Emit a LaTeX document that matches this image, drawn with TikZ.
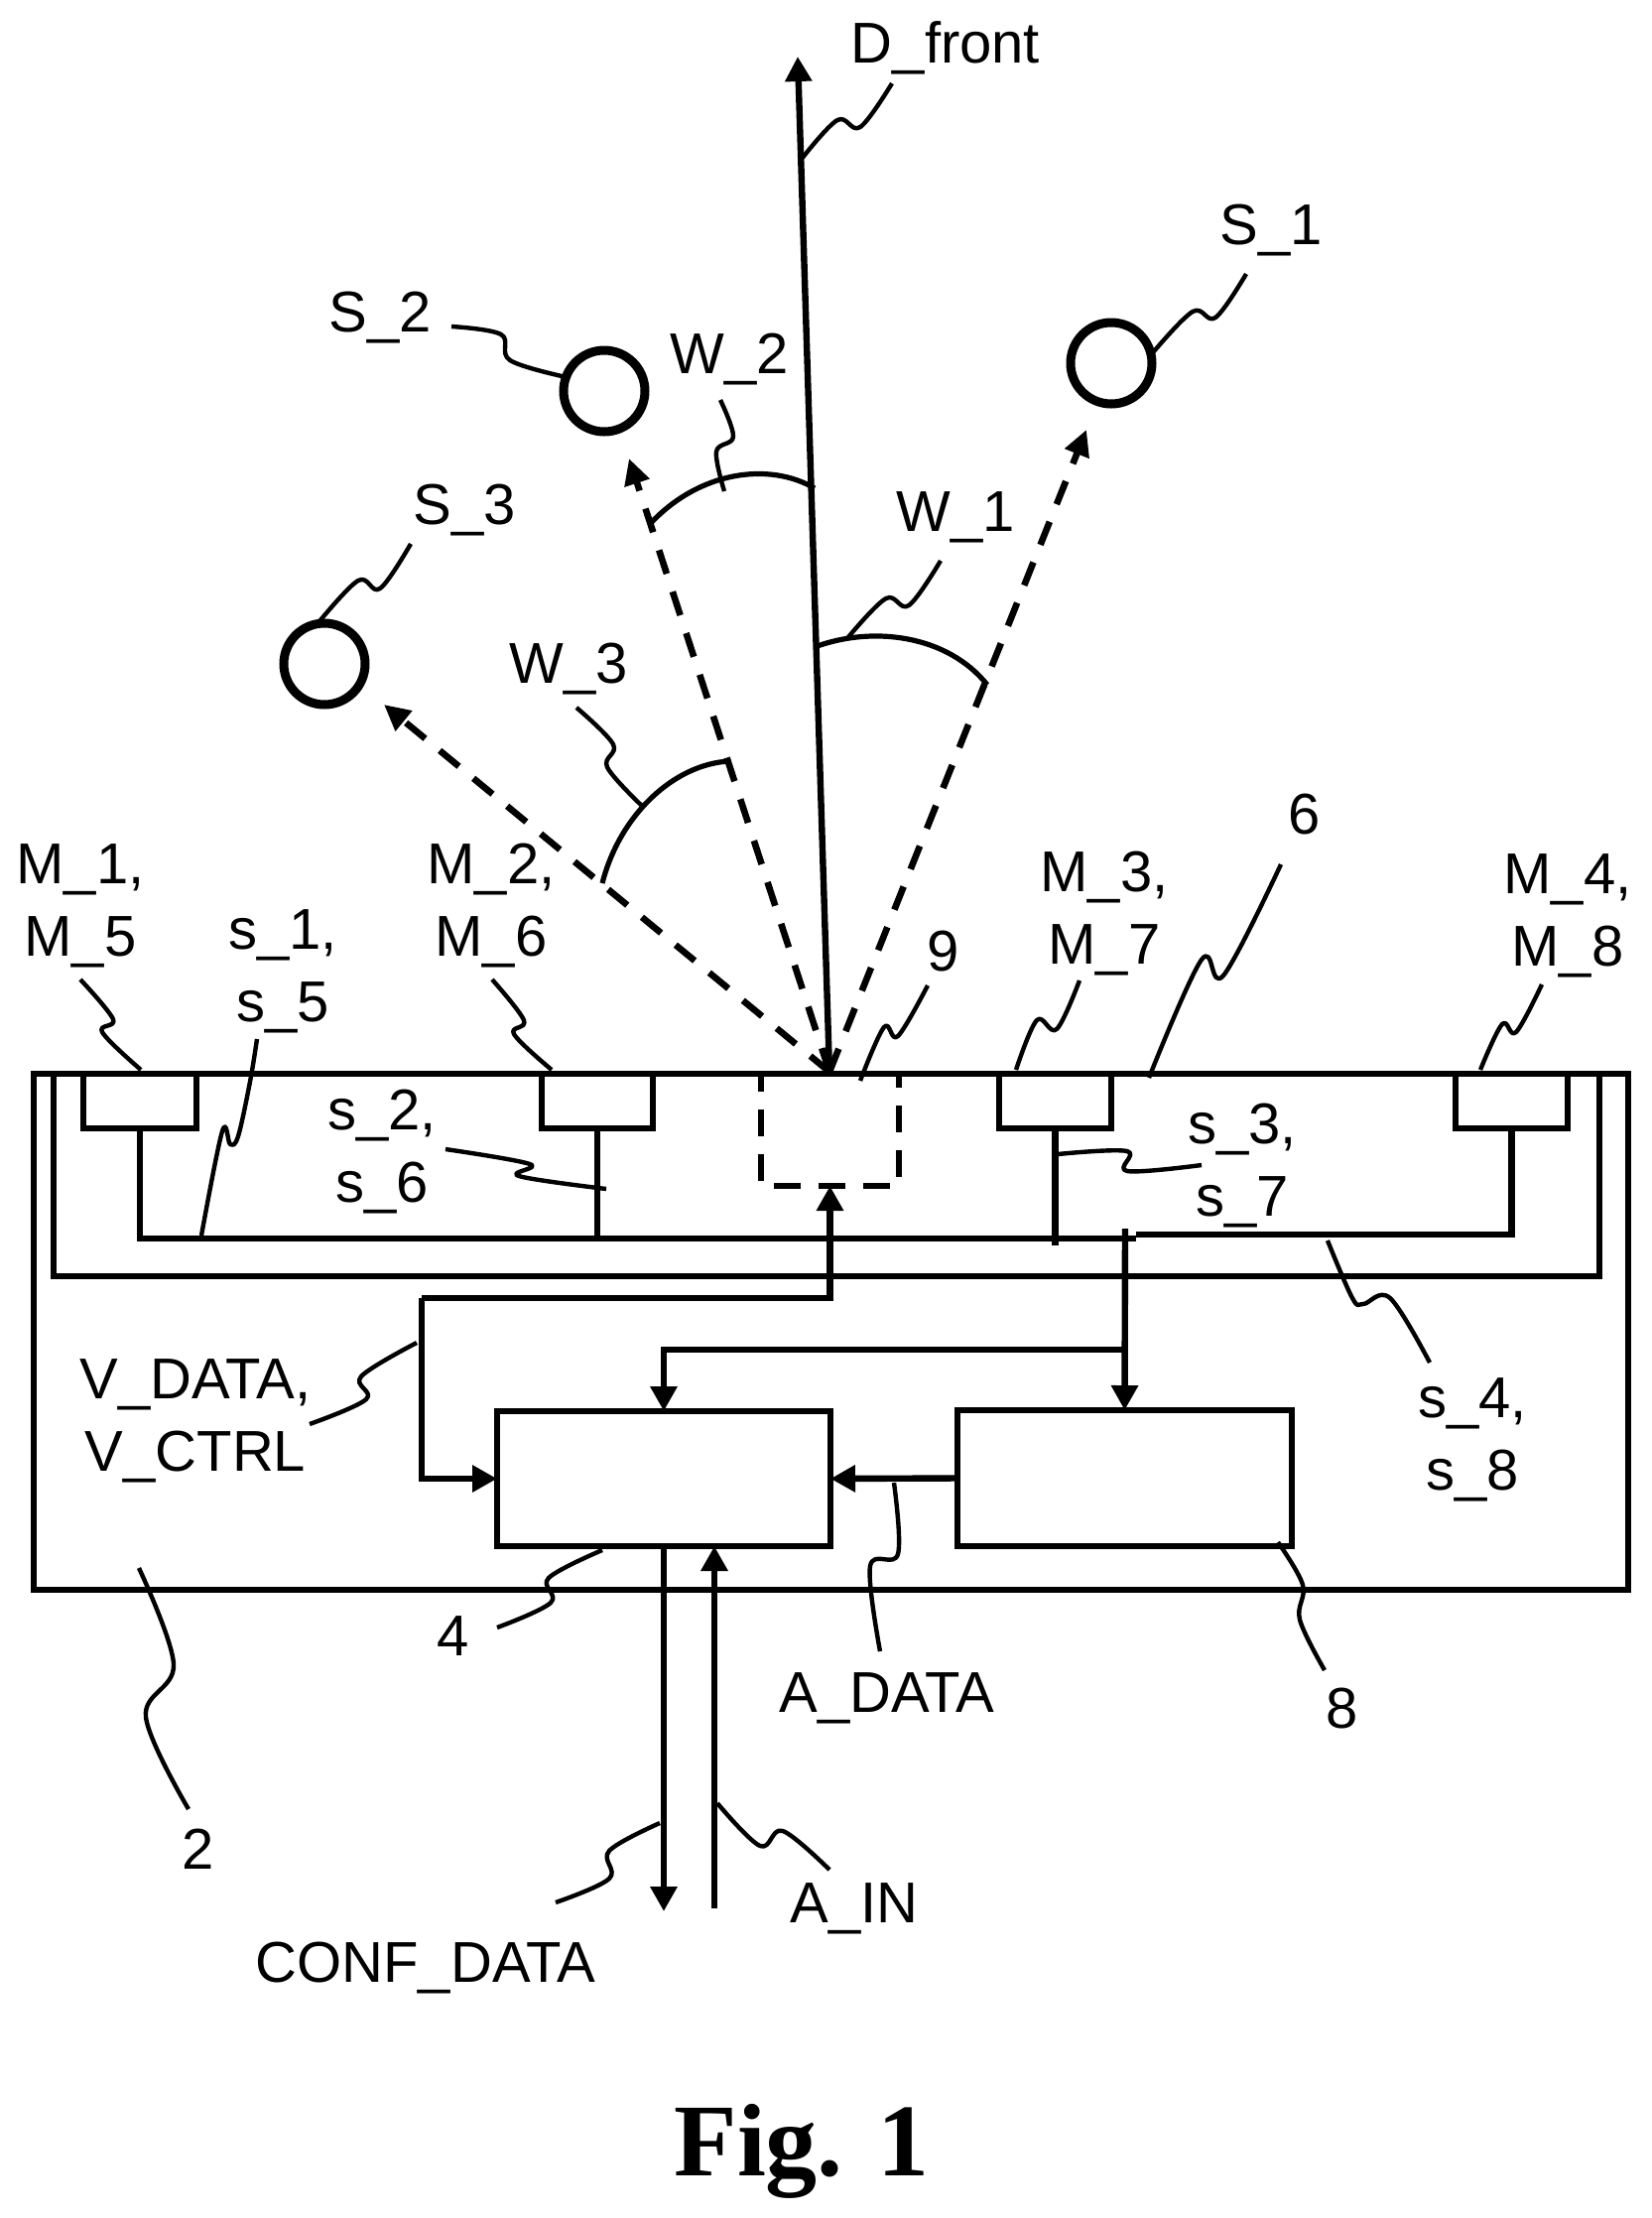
\documentclass[tikz,border=0pt]{standalone}
\usepackage{fontspec}
\setmainfont{Liberation Sans}
\newfontfamily\figfont{Liberation Serif}
\usetikzlibrary{arrows.meta}
\tikzset{
  lbl/.style={anchor=base,inner sep=0pt,outer sep=0pt,align=center,font=\fontsize{29}{36.5}\selectfont},
  figlbl/.style={anchor=base,inner sep=0pt,outer sep=0pt,font=\figfont\bfseries\fontsize{52}{60}\selectfont},
  boxnode/.style={draw,rectangle,inner sep=0pt,outer sep=0pt,line width=3.3pt},
  src/.style={draw,circle,inner sep=0pt,outer sep=0pt,minimum size=41pt,line width=4.5pt},
  wire/.style={line width=3.2pt},
  arr/.style={-{Triangle[length=12.5pt,width=13pt]}},
  dir/.style={line width=3.3pt,dash pattern=on 12.5pt off 9.5pt,-{Triangle[length=13pt,width=12.5pt]}},
  lead/.style={line width=2.2pt,line join=round}
}
\newcommand\leader[4]{\coordinate (#1a) at #2; \coordinate (#1b) at #4;
  \draw[lead] plot[smooth,tension=.6] coordinates {(#1a) #3 (#1b)};}
\begin{document}
\begin{tikzpicture}[x=0.5pt,y=-0.5pt]
\useasboundingbox (0,0) rectangle (1665,2235);
% main housing and blocks
\node[boxnode,minimum width=803.5pt,minimum height=260pt] (outer) at (837.5,1342) {};
\node[boxnode,minimum width=57pt,minimum height=27.5pt] (mic1) at (141,1109.5) {};
\node[boxnode,minimum width=56pt,minimum height=27.5pt] (mic2) at (602,1109.5) {};
\node[boxnode,minimum width=56.5pt,minimum height=27.5pt] (mic3) at (1063.5,1109.5) {};
\node[boxnode,minimum width=56.5pt,minimum height=27.5pt] (mic4) at (1523.5,1109.5) {};
\node[boxnode,minimum width=168pt,minimum height=68pt] (box4) at (669,1490) {};
\node[boxnode,minimum width=168.5pt,minimum height=68.5pt] (box8) at (1133.5,1489.5) {};
\node[inner sep=0pt,outer sep=0pt,minimum width=69.5pt,minimum height=56.5pt] (box9) at (836.5,1138.5) {};
\draw[line width=3pt,dash pattern=on 13.5pt off 9pt,dash phase=4.5pt]
  (box9.north west) -- (box9.south west) -- (box9.south east) -- (box9.north east);
% sound sources
\node[src] (s1) at (1120,366) {};
\node[src] (s2) at (609,394) {};
\node[src] (s3) at (327,669) {};
% wiring
\coordinate (busA) at (1145,1248);
\coordinate (busB) at (1145,1244);
\coordinate (stub) at (1063.5,1255);
\coordinate (tap) at (1134,1238);
\coordinate (j1) at (1134,1360);
\coordinate (vj) at (425,1308);
\coordinate (loopNW) at (54,1082);
\coordinate (loopSW) at (54,1286);
\coordinate (loopSE) at (1612,1286);
\coordinate (loopNE) at (1612,1082);
\coordinate (confEnd) at (669,1926);
\coordinate (ainEnd) at (720,1923);
\draw[wire] (mic1.south) |- (busA);
\draw[wire] (mic2.south) -- (mic2.south |- busA);
\draw[wire] (mic3.south) -- (stub);
\draw[wire] (mic4.south) |- (busB);
\draw[wire] (loopNW) -- (loopSW) -- (loopSE) -- (loopNE);
\draw[wire,arr] (tap) -- (box8.north);
\draw[wire,arr] (j1) -| (box4.north);
\draw[wire,arr] (vj) -| (box9.south);
\draw[wire,arr] (vj) |- (box4.west);
\draw[wire,arr] (box8.west) -- (box4.east);
\draw[wire,arr] (confEnd |- box4.south) -- (confEnd);
\draw[wire,arr] (ainEnd) -- (ainEnd |- box4.south);
% directions
\coordinate (origin) at (836,1080);
\coordinate (front) at (804,57);
\coordinate (dir1) at (1095,433);
\coordinate (dir2) at (634,462);
\coordinate (dir3) at (387,710);
\draw[wire,arr] (origin) -- (front);
\draw[dir] (origin) -- (dir1);
\draw[dir] (origin) -- (dir2);
\draw[dir] (origin) -- (dir3);
% angle arcs
\coordinate (a1s) at (821,652); \coordinate (a1e) at (995,690);
\coordinate (a2s) at (656,527); \coordinate (a2e) at (821,492);
\coordinate (a3s) at (607,890); \coordinate (a3e) at (735,767);
\draw[lead,line width=2.6pt] (a1s) .. controls (880,630) and (955,640) .. (a1e);
\draw[lead,line width=2.6pt] (a2s) .. controls (705,475) and (775,465) .. (a2e);
\draw[lead,line width=2.6pt] (a3s) .. controls (625,820) and (680,770) .. (a3e);
% labels
\node[lbl] (tfront) at (953,63) {D\_front};
\node[lbl] (tS1) at (1281,246) {S\_1};
\node[lbl] (tS2) at (383,334) {S\_2};
\node[lbl] (tS3) at (468,528) {S\_3};
\node[lbl] (tW1) at (963,535) {W\_1};
\node[lbl] (tW2) at (735,376) {W\_2};
\node[lbl] (tW3) at (573,688) {W\_3};
\node[lbl] (tM1) at (81,963) {M\_1,\\M\_5};
\node[lbl] (tM2) at (495,963) {M\_2,\\M\_6};
\node[lbl] (tM3) at (1113,971) {M\_3,\\M\_7};
\node[lbl] (tM4) at (1580,973) {M\_4,\\M\_8};
\node[lbl] (ts1) at (285,1029) {s\_1,\\s\_5};
\node[lbl] (ts2) at (385,1211) {s\_2,\\s\_6};
\node[lbl] (ts3) at (1252,1225) {s\_3,\\s\_7};
\node[lbl] (ts4) at (1484,1501) {s\_4,\\s\_8};
\node[lbl] (t9) at (951,978) {9};
\node[lbl] (t6) at (1315,840) {6};
\node[lbl] (tV) at (197,1482) {V\_DATA,\\V\_CTRL};
\node[lbl] (t4) at (457,1668) {4};
\node[lbl] (t8) at (1353,1741) {8};
\node[lbl] (t2) at (200,1883) {2};
\node[lbl] (tA) at (894,1725) {A\_DATA};
\node[lbl] (tIN) at (861,1937) {A\_IN};
\node[lbl] (tCONF) at (429,1997) {CONF\_DATA};
\node[figlbl] (tfig) at (808,2192) {Fig. 1};
% reference leaders
\leader{lfront}{(899,84)}{(867,128) (844,121)}{(808,160)}
\leader{lS1}{(1256,276)}{(1225,320) (1202,314)}{(s1.12)}
\leader{lS2}{(455,329)}{(505,337) (514,363)}{(s2.160)}
\leader{lS3}{(414,548)}{(383,593) (361,585)}{(s3.100)}
\leader{lW1}{(948,565)}{(916,610) (893,603)}{(855,642)}
\leader{lW2}{(726,403)}{(739,440) (722,455)}{(730,495)}
\leader{lW3}{(581,713)}{(618,750) (612,773)}{(647,812)}
\leader{lM1}{(81,987)}{(114,1027) (103,1040)}{(142,1078)}
\leader{lM2}{(496,987)}{(528,1028) (518,1042)}{(556,1078)}
\leader{lM3}{(1088,988)}{(1065,1037) (1045,1028)}{(1024,1078)}
\leader{lM4}{(1554,992)}{(1528,1040) (1514,1032)}{(1492,1078)}
\leader{ls1}{(259,1047)}{(252,1090) (240,1145) (232,1153) (224,1140)}{(203,1245)}
\leader{ls2}{(449,1158)}{(534,1173) (523,1185)}{(611,1198)}
\leader{ls3}{(1211,1174)}{(1136,1180) (1136,1160)}{(1066,1163)}
\leader{ls4}{(1338,1250)}{(1363,1308) (1374,1314) (1401,1308)}{(1441,1373)}
\leader{l6}{(1291,871)}{(1233,983) (1211,967)}{(1158,1086)}
\leader{l9}{(935,993)}{(905,1044) (891,1035)}{(867,1089)}
\leader{lV}{(420,1353)}{(364,1387) (369,1410)}{(312,1435)}
\leader{l4}{(607,1562)}{(553,1590) (555,1615)}{(501,1640)}
\leader{l8}{(1288,1554)}{(1313,1597) (1310,1632)}{(1335,1683)}
\leader{l2}{(140,1580)}{(175,1677) (147,1730)}{(190,1823)}
\leader{lA}{(901,1494)}{(905,1566) (877,1578)}{(887,1664)}
\leader{lCONF}{(665,1837)}{(614,1865) (614,1893)}{(560,1917)}
\leader{lIN}{(723,1817)}{(766,1860) (789,1845)}{(836,1884)}
\end{tikzpicture}
\end{document}
